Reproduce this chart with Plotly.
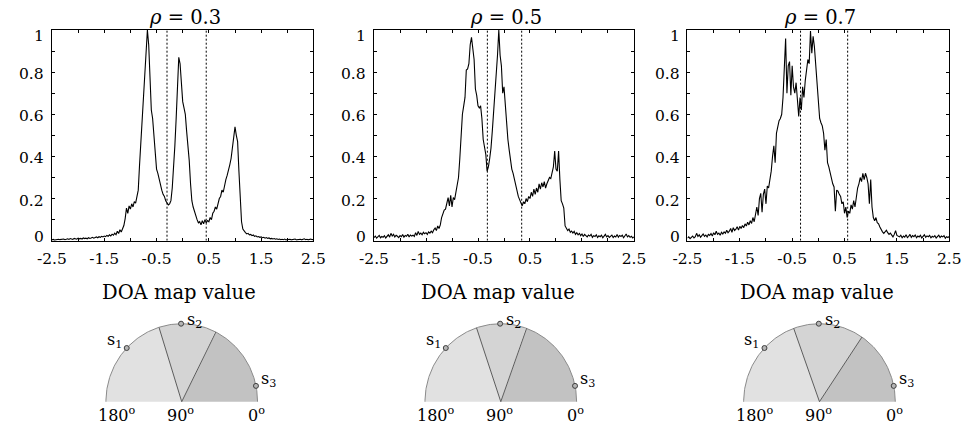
import numpy as np
import plotly.graph_objects as go

W, H = 970, 432
FONT = "DejaVu Serif"

RHO_LABELS = ["0.3", "0.5", "0.7"]

# DOA map sampled on a uniform grid from -2.5 to 2.5
GRID_START = -2.5
GRID_STEP = 0.025

DOA_RHO03 = [
    0.004, 0.006, 0.003, 0.005, 0.004, 0.007, 0.005, 0.006, 0.004, 0.008,
    0.005, 0.007, 0.009, 0.006, 0.010, 0.008, 0.006, 0.011, 0.009, 0.007,
    0.012, 0.009, 0.011, 0.008, 0.013, 0.010, 0.012, 0.009, 0.014, 0.011,
    0.013, 0.016, 0.012, 0.015, 0.018, 0.014, 0.019, 0.016, 0.021, 0.018,
    0.022, 0.019, 0.025, 0.021, 0.028, 0.023, 0.031, 0.026, 0.036, 0.029,
    0.045, 0.034, 0.052, 0.041, 0.060, 0.072, 0.105, 0.155, 0.130, 0.165,
    0.150, 0.175, 0.160, 0.185, 0.178, 0.205, 0.240, 0.360, 0.460, 0.560,
    0.660, 0.760, 0.880, 1.000, 0.930, 0.780, 0.620, 0.580, 0.500, 0.420,
    0.340, 0.320, 0.290, 0.260, 0.240, 0.220, 0.210, 0.190, 0.180, 0.170,
    0.175, 0.190, 0.250, 0.330, 0.450, 0.580, 0.720, 0.870, 0.840, 0.760,
    0.660, 0.630, 0.600, 0.520, 0.460, 0.380, 0.270, 0.190, 0.160, 0.140,
    0.110, 0.100, 0.085, 0.090, 0.075, 0.095, 0.080, 0.100, 0.085, 0.095,
    0.090, 0.110, 0.100, 0.130, 0.140, 0.160, 0.150, 0.180, 0.200, 0.210,
    0.240, 0.230, 0.270, 0.290, 0.310, 0.330, 0.360, 0.390, 0.440, 0.490,
    0.540, 0.500, 0.470, 0.330, 0.170, 0.090, 0.055, 0.045, 0.038, 0.032,
    0.035, 0.028, 0.030, 0.024, 0.027, 0.021, 0.023, 0.018, 0.020, 0.016,
    0.018, 0.014, 0.016, 0.012, 0.015, 0.011, 0.013, 0.009, 0.011, 0.008,
    0.010, 0.007, 0.009, 0.006, 0.008, 0.005, 0.007, 0.005, 0.008, 0.004,
    0.006, 0.005, 0.007, 0.004, 0.006, 0.005, 0.008, 0.004, 0.006, 0.005,
    0.007, 0.004, 0.006, 0.009, 0.005, 0.007, 0.004, 0.006, 0.008, 0.005,
    0.006,
]

DOA_RHO05 = [
    0.015, 0.022, 0.012, 0.018, 0.025, 0.014, 0.020, 0.016, 0.024, 0.013,
    0.019, 0.028, 0.017, 0.035, 0.022, 0.030, 0.018, 0.026, 0.021, 0.015,
    0.024, 0.019, 0.029, 0.017, 0.025, 0.021, 0.031, 0.018, 0.027, 0.022,
    0.026, 0.020, 0.038, 0.025, 0.044, 0.030, 0.036, 0.028, 0.040, 0.033,
    0.038, 0.030, 0.042, 0.036, 0.045, 0.038, 0.052, 0.060, 0.048, 0.070,
    0.058, 0.075, 0.110, 0.125, 0.145, 0.150, 0.175, 0.205, 0.165, 0.215,
    0.160, 0.205, 0.195, 0.230, 0.260, 0.300, 0.390, 0.500, 0.600, 0.640,
    0.680, 0.810, 0.815, 0.840, 0.930, 0.965, 0.900, 0.860, 0.720, 0.690,
    0.640, 0.630, 0.640, 0.580, 0.480, 0.450, 0.410, 0.330, 0.350, 0.390,
    0.440, 0.520, 0.600, 0.690, 0.790, 0.880, 1.000, 0.880, 0.830, 0.700,
    0.730, 0.640, 0.580, 0.480, 0.430, 0.380, 0.340, 0.320, 0.290, 0.260,
    0.230, 0.210, 0.195, 0.175, 0.165, 0.185, 0.175, 0.200, 0.185, 0.210,
    0.200, 0.230, 0.210, 0.245, 0.220, 0.250, 0.230, 0.270, 0.245, 0.275,
    0.255, 0.280, 0.250, 0.270, 0.285, 0.300, 0.295, 0.320, 0.350, 0.425,
    0.340, 0.330, 0.425, 0.290, 0.190, 0.175, 0.155, 0.070, 0.060, 0.048,
    0.055, 0.040, 0.046, 0.036, 0.044, 0.030, 0.038, 0.028, 0.035, 0.024,
    0.032, 0.020, 0.030, 0.025, 0.018, 0.027, 0.022, 0.030, 0.016, 0.024,
    0.020, 0.028, 0.015, 0.023, 0.019, 0.026, 0.014, 0.022, 0.030, 0.018,
    0.024, 0.016, 0.021, 0.027, 0.015, 0.022, 0.018, 0.029, 0.017, 0.025,
    0.020, 0.026, 0.014, 0.022, 0.032, 0.018, 0.024, 0.016, 0.021, 0.013,
    0.018,
]

DOA_RHO07 = [
    0.012, 0.018, 0.010, 0.015, 0.022, 0.013, 0.019, 0.035, 0.020, 0.028,
    0.016, 0.024, 0.032, 0.021, 0.027, 0.018, 0.030, 0.025, 0.034, 0.022,
    0.038, 0.028, 0.045, 0.030, 0.036, 0.026, 0.040, 0.032, 0.042, 0.035,
    0.050, 0.038, 0.045, 0.058, 0.040, 0.062, 0.048, 0.055, 0.066, 0.050,
    0.068, 0.058, 0.072, 0.062, 0.080, 0.070, 0.088, 0.075, 0.095, 0.082,
    0.110, 0.090, 0.125, 0.160, 0.120, 0.200, 0.225, 0.135, 0.220, 0.245,
    0.175, 0.260, 0.250, 0.290, 0.330, 0.400, 0.450, 0.370, 0.510, 0.540,
    0.570, 0.580, 0.600, 0.680, 0.830, 0.960, 0.700, 0.830, 0.850, 0.690,
    0.830, 0.730, 0.700, 0.750, 0.670, 0.590, 0.680, 0.620, 0.730, 0.680,
    0.760, 0.800, 0.860, 0.840, 0.995, 0.890, 0.970, 0.920, 0.830, 0.720,
    0.640, 0.580, 0.560, 0.545, 0.510, 0.430, 0.480, 0.370, 0.350, 0.320,
    0.290, 0.270, 0.255, 0.140, 0.240, 0.235, 0.220, 0.210, 0.175, 0.185,
    0.130, 0.160, 0.110, 0.140, 0.130, 0.170, 0.150, 0.190, 0.160, 0.220,
    0.250, 0.270, 0.300, 0.280, 0.320, 0.290, 0.320, 0.300, 0.270, 0.175,
    0.290, 0.160, 0.110, 0.095, 0.110, 0.085, 0.080, 0.065, 0.050, 0.042,
    0.035, 0.045, 0.050, 0.038, 0.030, 0.036, 0.025, 0.018, 0.030, 0.048,
    0.025, 0.020, 0.018, 0.026, 0.014, 0.022, 0.017, 0.028, 0.015, 0.021,
    0.030, 0.016, 0.024, 0.019, 0.027, 0.014, 0.022, 0.018, 0.026, 0.013,
    0.020, 0.028, 0.016, 0.023, 0.019, 0.025, 0.014, 0.021, 0.017, 0.024,
    0.013, 0.020, 0.026, 0.015, 0.022, 0.018, 0.024, 0.012, 0.019, 0.015,
    0.021,
]

# region borders on the DOA axis (dotted lines / dial sector edges)
BORDERS_RHO03 = [-0.30, 0.45]
BORDERS_RHO05 = [-0.32, 0.34]
BORDERS_RHO07 = [-0.34, 0.56]

# source directions in degrees
SOURCE_ANGLES = [136.5, 90.5, 11.7]
SOURCE_LABELS = ["s<sub>1</sub>", "s<sub>2</sub>", "s<sub>3</sub>"]

X_LABEL_TICKS = [-2.5, -1.5, -0.5, 0.5, 1.5, 2.5]
X_TICK_LABELS = ["-2.5", "-1.5", "-0.5", "0.5", "1.5", "2.5"]
X_TICK_STEP = 0.5
Y_TICKS = [0.0, 0.1, 0.2, 0.3, 0.4, 0.5, 0.6, 0.7, 0.8, 0.9, 1.0]
Y_TICK_LABELS = ["0", "", "0.2", "", "0.4", "", "0.6", "", "0.8", "", "1"]
ANGLE_TICKS = [180, 90, 0]
ANGLE_TICK_LABELS = ["180<sup>o</sup>", "90<sup>o</sup>", "0<sup>o</sup>"]
AXIS_CAPTION = "DOA map value"

curves = [DOA_RHO03, DOA_RHO05, DOA_RHO07]
borders = [BORDERS_RHO03, BORDERS_RHO05, BORDERS_RHO07]

# ---- layout geometry (pixels) ----
PLOT_X = [(38.0, 307.0), (369.3, 636.7), (691.7, 961.0)]
PLOT_Y = (30.0, 240.7)
DIAL_CX = [171.5, 499.7, 827.5]
DIAL_CY = 401.7
DIAL_R = 78.0
DIAL_XR = (-1.3, 1.3)
DIAL_YR = (-0.35, 1.25)

SECTOR_COLORS = ["#e1e1e1", "#d4d4d4", "#c2c2c2"]


def px(x):
    return x / W


def py(y):
    return 1 - y / H


def y_label_nudge(v):
    """Downward offset (px) of a y tick label relative to its tick."""
    if v >= 1.0:
        return 6
    if v <= 0.0:
        return -4
    return 2


fig = go.Figure()
layout = dict(
    width=W, height=H,
    margin=dict(l=0, r=0, t=0, b=0),
    paper_bgcolor="white", plot_bgcolor="white",
    showlegend=False,
    annotations=[],
)

tickfont = dict(family=FONT, size=15.5, color="black")

for i in range(3):
    k = i + 1
    xa = "x" if k == 1 else f"x{k}"
    ya = "y" if k == 1 else f"y{k}"
    layout["xaxis" if k == 1 else f"xaxis{k}"] = dict(
        domain=[px(PLOT_X[i][0]), px(PLOT_X[i][1])], range=[-2.5, 2.5],
        anchor=ya, tickmode="array", tickvals=X_LABEL_TICKS, ticktext=X_TICK_LABELS,
        ticks="inside", ticklen=3, tickwidth=1, tickcolor="black",
        minor=dict(tick0=-2.5, dtick=X_TICK_STEP, ticks="inside", ticklen=3,
                   tickwidth=1, tickcolor="black", showgrid=False),
        showline=True, linecolor="black", linewidth=1, mirror="allticks",
        showgrid=False, zeroline=False, tickfont=tickfont, fixedrange=True,
        ticklabelstandoff=4,
    )
    layout["yaxis" if k == 1 else f"yaxis{k}"] = dict(
        domain=[py(PLOT_Y[1]), py(PLOT_Y[0])], range=[0, 1],
        anchor=xa, tickmode="array", tickvals=Y_TICKS, showticklabels=False,
        ticks="inside", ticklen=3, tickwidth=1, tickcolor="black",
        showline=True, linecolor="black", linewidth=1, mirror="allticks",
        showgrid=False, zeroline=False, fixedrange=True,
    )
    for v, lab in zip(Y_TICKS, Y_TICK_LABELS):
        if lab:
            layout["annotations"].append(dict(
                text=lab, xref="paper", yref=ya, x=px(PLOT_X[i][0] - 6), y=v,
                xanchor="right", yanchor="middle", yshift=-y_label_nudge(v),
                showarrow=False, font=tickfont))

    vals = np.array(curves[i])
    xs = GRID_START + GRID_STEP * np.arange(len(vals))
    fig.add_trace(go.Scatter(x=xs, y=vals, mode="lines", xaxis=xa, yaxis=ya,
                             line=dict(color="black", width=1.1), hoverinfo="skip"))
    for b in borders[i]:
        fig.add_trace(go.Scatter(x=[b, b], y=[0, 1], mode="lines", xaxis=xa, yaxis=ya,
                                 line=dict(color="black", width=1, dash="2px,2px"),
                                 hoverinfo="skip"))

    cx = (PLOT_X[i][0] + PLOT_X[i][1]) / 2
    layout["annotations"].append(dict(
        text=f"<i>ρ</i> = {RHO_LABELS[i]}", xref="paper", yref="paper",
        x=px(cx + 2), y=py(17), xanchor="center", yanchor="middle", showarrow=False,
        font=dict(family=FONT, size=19.5, color="black")))

    # ---- half-circle dial ----
    d = i + 4
    dxa, dya = f"x{d}", f"y{d}"
    dcx = DIAL_CX[i]
    layout[f"xaxis{d}"] = dict(
        domain=[px(dcx + DIAL_XR[0] * DIAL_R), px(dcx + DIAL_XR[1] * DIAL_R)],
        range=list(DIAL_XR), anchor=dya, visible=False, fixedrange=True)
    layout[f"yaxis{d}"] = dict(
        domain=[py(DIAL_CY - DIAL_YR[0] * DIAL_R), py(DIAL_CY - DIAL_YR[1] * DIAL_R)],
        range=list(DIAL_YR), anchor=dxa, visible=False, fixedrange=True)

    edges = [np.degrees(np.arccos(b)) for b in borders[i]]
    spans = [(edges[0], 180.0), (edges[1], edges[0]), (0.0, edges[1])]
    for (lo, hi), col in zip(spans, SECTOR_COLORS):
        t = np.radians(np.linspace(lo, hi, 80))
        sx = np.concatenate([[0], np.cos(t), [0]])
        sy = np.concatenate([[0], np.sin(t), [0]])
        fig.add_trace(go.Scatter(x=sx, y=sy, mode="lines", fill="toself", fillcolor=col,
                                 line=dict(width=0, color=col), xaxis=dxa, yaxis=dya,
                                 hoverinfo="skip"))
    t = np.radians(np.linspace(0, 180, 181))
    fig.add_trace(go.Scatter(x=np.cos(t), y=np.sin(t), mode="lines",
                             line=dict(color="#8a8a8a", width=1), xaxis=dxa, yaxis=dya,
                             hoverinfo="skip"))
    for a in edges:
        r = np.radians(a)
        fig.add_trace(go.Scatter(x=[0, np.cos(r)], y=[0, np.sin(r)], mode="lines",
                                 line=dict(color="#5c5c5c", width=1), xaxis=dxa, yaxis=dya,
                                 hoverinfo="skip"))
    sa = np.radians(SOURCE_ANGLES)
    fig.add_trace(go.Scatter(x=np.cos(sa), y=np.sin(sa), mode="markers",
                             marker=dict(symbol="circle", size=5, color="#b5b5b5",
                                         line=dict(color="#404040", width=1)),
                             xaxis=dxa, yaxis=dya, hoverinfo="skip"))

    label_style = [("right", -3, 8), ("left", 4, 3), ("left", 3, 6)]
    for j, lab in enumerate(SOURCE_LABELS):
        anc, xs_, ys_ = label_style[j]
        layout["annotations"].append(dict(
            text=lab, xref=dxa, yref=dya, x=float(np.cos(sa[j])), y=float(np.sin(sa[j])),
            xanchor=anc, yanchor="middle", xshift=xs_, yshift=ys_, showarrow=False,
            font=dict(family=FONT, size=16, color="black")))

    angle_shift = [11, -1, -1]
    for j, (ang, lab) in enumerate(zip(ANGLE_TICKS, ANGLE_TICK_LABELS)):
        layout["annotations"].append(dict(
            text=lab, xref=dxa, yref=dya, x=float(np.cos(np.radians(ang))), y=0,
            xanchor="center", yanchor="middle", xshift=angle_shift[j], yshift=-13,
            showarrow=False, font=dict(family=FONT, size=16, color="black")))

    layout["annotations"].append(dict(
        text=AXIS_CAPTION, xref="paper", yref="paper", x=px(dcx - 3), y=py(292),
        xanchor="center", yanchor="middle", showarrow=False,
        font=dict(family=FONT, size=19.5, color="black")))

fig.update_layout(**layout)
fig.write_html("out.html")
